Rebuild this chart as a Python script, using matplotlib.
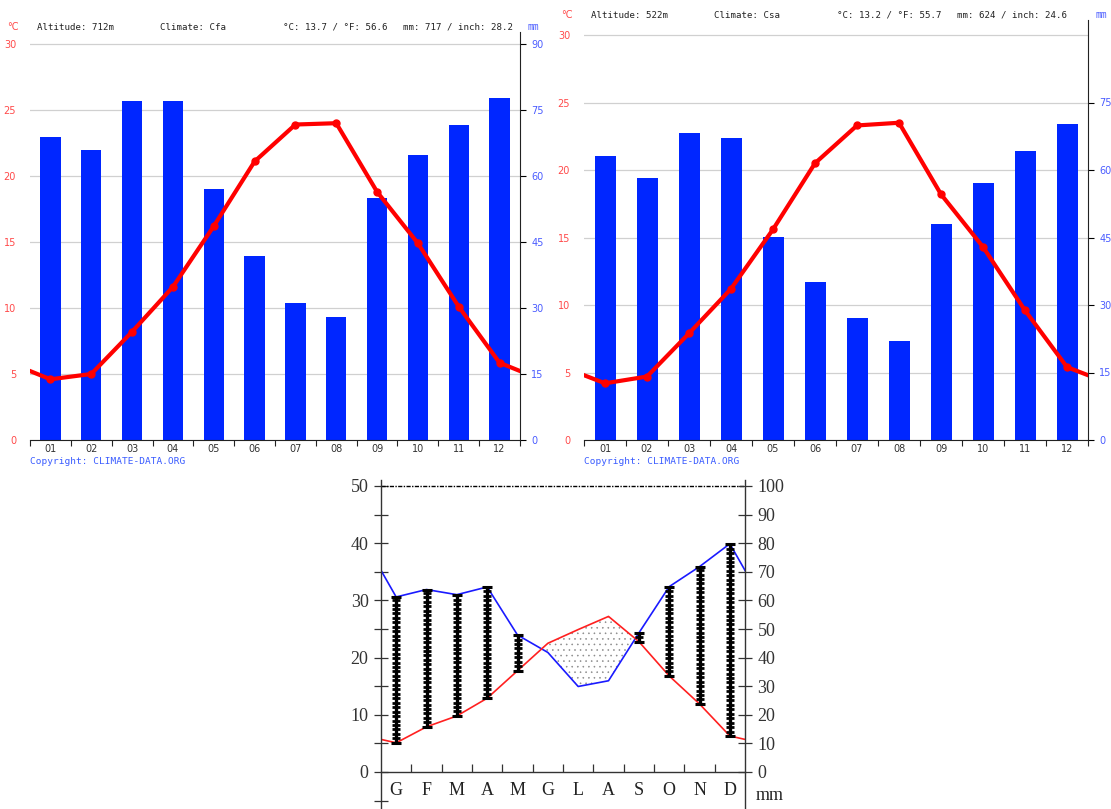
import numpy as np
import matplotlib
matplotlib.use("Agg")
import matplotlib.pyplot as plt

# ---------------- data ----------------
month_nums = ['01', '02', '03', '04', '05', '06', '07', '08', '09', '10', '11', '12']

# top-left station (Altitude 712 m, Cfa)
left_prec = [68.8, 65.8, 77.0, 77.0, 57.0, 41.9, 31.2, 28.0, 55.0, 64.8, 71.7, 77.8]
left_temp = [4.6, 5.0, 8.2, 11.6, 16.2, 21.1, 23.9, 24.0, 18.8, 14.9, 10.1, 5.85]
left_header = ["Altitude: 712m", "Climate: Cfa", "°C: 13.7 / °F: 56.6", "mm: 717 / inch: 28.2"]

# top-right station (Altitude 522 m, Csa)
right_prec = [63.1, 58.2, 68.2, 67.1, 45.1, 35.1, 27.1, 22.0, 48.0, 57.1, 64.2, 70.2]
right_temp = [4.2, 4.7, 7.9, 11.2, 15.6, 20.5, 23.3, 23.5, 18.2, 14.3, 9.6, 5.4]
right_header = ["Altitude: 522m", "Climate: Csa", "°C: 13.2 / °F: 55.7", "mm: 624 / inch: 24.6"]

copyright_text = "Copyright: CLIMATE-DATA.ORG"

# bottom Walter-Lieth diagram
wl_months = ['G', 'F', 'M', 'A', 'M', 'G', 'L', 'A', 'S', 'O', 'N', 'D']
wl_temp = [5.1, 7.9, 9.8, 12.9, 17.7, 22.5, 24.9, 27.2, 22.8, 16.8, 11.9, 6.3]
wl_prec_mm = [61.2, 63.8, 62.0, 64.7, 47.9, 41.8, 29.9, 31.9, 48.6, 64.8, 71.8, 79.8]

W, H = 1111, 809
fig = plt.figure(figsize=(W / 100, H / 100), dpi=100)
fig.patch.set_facecolor('white')


def px_axes(x0, y0, x1, y1):
    return fig.add_axes([x0 / W, (H - y1) / H, (x1 - x0) / W, (y1 - y0) / H])


RED_LBL = '#ff4a4a'
BLUE_LBL = '#4a5cff'
BAR_BLUE = '#0026ff'
MONO = 'DejaVu Sans Mono'


def climate_chart(x0, x1, ytop_spine, y30, y0, prec, temp, header, header_y, right_ticks):
    axb = px_axes(x0, ytop_spine, x1, y0)
    top_t = 30 * (y0 - ytop_spine) / (y0 - y30)
    axb.set_xlim(0.5, 12.5)
    axb.set_ylim(0, top_t * 3)
    x = np.arange(1, 13)
    axb.bar(x, prec, width=0.5, color=BAR_BLUE, zorder=2)
    for v in np.arange(0, 91, 15):
        axb.axhline(v, color='#d0d0d0', lw=0.9, zorder=1)

    axt = axb.twinx()

    axb.set_yticks(right_ticks)
    axb.set_yticklabels([str(v) for v in right_ticks])
    axb.yaxis.tick_right()
    axb.tick_params(axis='y', left=False, labelleft=False, right=True, labelright=True,
                    colors='black', labelcolor=BLUE_LBL, labelsize=7,
                    length=4, width=0.8, pad=4, direction='out')
    for s in ['left', 'top']:
        axb.spines[s].set_visible(False)
    axb.spines['right'].set_color('#222222')
    axb.spines['bottom'].set_color('#222222')
    axb.set_xticks(x)
    axb.set_xticklabels(month_nums)
    axb.set_xticks(np.arange(0.5, 12.6, 1), minor=True)
    axb.tick_params(axis='x', which='major', length=0, labelsize=7, labelcolor='#333333', pad=3)
    axb.tick_params(axis='x', which='minor', length=4, width=0.8, direction='out', color='#222222')

    axt.set_ylim(0, top_t)
    axt.yaxis.tick_left()
    axt.set_yticks(np.arange(0, 31, 5))
    axt.tick_params(axis='y', left=False, right=False, labelleft=True, labelright=False,
                    length=0, labelsize=7, labelcolor=RED_LBL, pad=10)
    for s in axt.spines.values():
        s.set_visible(False)
    xt = np.concatenate([[0], x, [13]])
    yt = np.concatenate([[temp[-1]], temp, [temp[0]]])
    axt.plot(xt, yt, color='#ff0000', lw=3, solid_joinstyle='round',
             solid_capstyle='round', zorder=3)
    axt.plot(x, temp, 'o', color='#ff0000', ms=5, zorder=4)

    fy = 1 - header_y / H
    fig.text((x0 - 17) / W, fy, '°C', color=RED_LBL, fontsize=7, ha='center', va='center')
    fig.text((x1 + 13) / W, fy, 'mm', color=BLUE_LBL, fontsize=7, ha='center', va='center',
             family=MONO)
    hx = [x0 + 7, x0 + 130, x0 + 253, x0 + 373]
    for tx, s in zip(hx, header):
        fig.text(tx / W, fy, s, fontsize=6.6, family=MONO, color='#222222',
                 ha='left', va='center')
    fig.text(x0 / W, 1 - 462 / H, copyright_text, fontsize=6.8, family=MONO,
             color='#3a5cff', ha='left', va='center')


climate_chart(30, 520, 32, 44, 440, left_prec, left_temp, left_header, 27,
              list(range(0, 91, 15)))
climate_chart(584, 1088, 20, 35, 440, right_prec, right_temp, right_header, 15,
              list(range(0, 76, 15)))

# ---------------- bottom Walter-Lieth diagram ----------------
SERIF = 'Liberation Serif'
ax = px_axes(381, 480, 745, 809)
ppu = (772 - 486) / 50.0
ybot = -(809 - 772) / ppu
ytop = 50 + (486 - 480) / ppu
ax.set_xlim(-0.5, 11.5)
ax.set_ylim(ybot, ytop)
ax.patch.set_visible(False)

temp = np.array(wl_temp)
prec_t = np.array(wl_prec_mm) / 2.0  # Walter-Lieth scale: 10 °C = 20 mm
xm = np.arange(12)

# arid period (dotted)
plt.rcParams['hatch.linewidth'] = 0.4
ax.fill_between(xm, temp, prec_t, where=temp > prec_t, interpolate=True,
                facecolor='none', edgecolor='#8a8a8a', hatch='...', linewidth=0)

# humid period (ladders)
for i in range(12):
    if prec_t[i] > temp[i]:
        ax.plot([i, i], [temp[i], prec_t[i]], color='black', lw=2.4, zorder=3,
                solid_capstyle='butt')
        ticks = np.arange(temp[i], prec_t[i] + 0.01, 0.78)
        ax.plot(np.full(len(ticks), i), ticks, ls='none', marker='_', ms=6,
                mew=2.0, color='black', zorder=3)
        ax.plot([i, i], [temp[i], prec_t[i]], ls='none', marker='_', ms=7.5,
                mew=2.2, color='black', zorder=3)

xw = np.concatenate([[-1], xm, [12]])
ax.plot(xw, np.concatenate([[prec_t[-1]], prec_t, [prec_t[0]]]), color='#1a1aff', lw=1.2, zorder=2)
ax.plot(xw, np.concatenate([[temp[-1]], temp, [temp[0]]]), color='#ff2020', lw=1.2, zorder=2)

ax.axhline(50, color='black', lw=1.0, ls=(0, (3, 1, 1, 1)))

ax.spines['top'].set_visible(False)
ax.spines['bottom'].set_position(('data', 0))
for s in ['left', 'right', 'bottom']:
    ax.spines[s].set_color('#333333')
    ax.spines[s].set_linewidth(1.0)

ax.set_yticks(np.arange(-5, 51, 5))
ax.set_yticklabels([str(v) if v >= 0 and v % 10 == 0 else '' for v in range(-5, 51, 5)])
ax.tick_params(axis='y', direction='inout', length=10, width=0.9, color='#333333',
               labelsize=13, labelcolor='#333333', pad=4)
for t in ax.get_yticklabels():
    t.set_family(SERIF)

ax.set_xticks(xm)
ax.set_xticklabels(wl_months)
ax.set_xticks(np.arange(0.5, 11, 1), minor=True)
ax.tick_params(axis='x', which='major', length=0, labelsize=13, labelcolor='#222222', pad=7)
ax.tick_params(axis='x', which='minor', direction='in', length=6, width=0.9, color='#333333')
for t in ax.get_xticklabels():
    t.set_family(SERIF)

axr = ax.twinx()
axr.set_ylim(ybot * 2, ytop * 2)
axr.set_yticks(np.arange(0, 101, 10))
axr.tick_params(axis='y', direction='inout', length=10, width=0.9, color='#333333',
                labelsize=13, labelcolor='#333333', pad=4)
for t in axr.get_yticklabels():
    t.set_family(SERIF)
for s in axr.spines.values():
    s.set_visible(False)

fig.text(770 / W, 1 - 796 / H, 'mm', fontsize=13, family=SERIF, color='#222222',
         ha='center', va='center')

fig.savefig('out.png', dpi=100, facecolor='white')
